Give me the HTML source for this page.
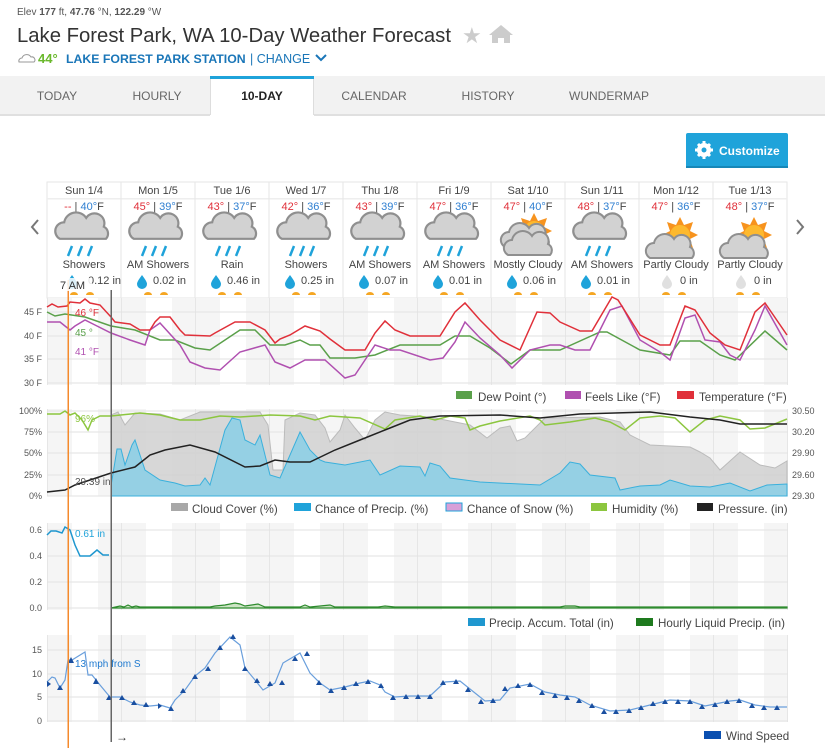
<!DOCTYPE html>
<html><head><meta charset="utf-8"><style>
html,body{margin:0;padding:0;background:#fff;}
body{width:825px;height:750px;overflow:hidden;font-family:"Liberation Sans",sans-serif;}
svg text{font-family:"Liberation Sans",sans-serif;}
</style></head><body>
<svg width="825" height="750" viewBox="0 0 825 750" xmlns="http://www.w3.org/2000/svg">
<defs>
<pattern id="bands" patternUnits="userSpaceOnUse" x="47" y="0" width="74" height="750">
<rect x="0" y="0" width="74" height="750" fill="#f5f5f5"/>
<rect x="25" y="0" width="26" height="750" fill="#fff"/>
<rect x="0" y="0" width="1" height="750" fill="#e6e6e6"/>
</pattern>
<g id="cloud"><path d="M-22,8 a8,8 0 0 1 4,-15 a11,11 0 0 1 20,-4 a9,9 0 0 1 16,8 a7,7 0 0 1 2,11 z" fill="#d2d2d2" stroke="#8f8f8f" stroke-width="2"/></g>
<g id="rain"><g transform="scale(1.1)"><use href="#cloud"/></g><path d="M-12,16 l-4,10 M-2,16 l-4,10 M8,16 l-4,10" stroke="#1fa3da" stroke-width="2.5"/></g>
<g id="sun"><polygon points="0,-18 4,-10 13,-13 10,-4 18,0 10,4 13,13 4,10 0,18 -4,10 -13,13 -10,4 -18,0 -10,-4 -13,-13 -4,-10" fill="#f7931e"/><circle r="10" fill="#fdb92e"/></g>
<g id="drop"><path d="M0,-6 C3,-2 5,1 5,3 a5,5 0 0 1 -10,0 C-5,1 -3,-2 0,-6z" fill="#1fa3da"/></g>
<g id="dropg"><path d="M0,-6 C3,-2 5,1 5,3 a5,5 0 0 1 -10,0 C-5,1 -3,-2 0,-6z" fill="#e0e0e0"/></g>
<g id="suns"><path d="M-14,0 a4,3 0 0 1 8,0z M10,0 a4,3 0 0 0 -8,0z" fill="#f5a623"/></g>
</defs>

<!-- header -->
<text x="17" y="15" font-size="10" fill="#555">Elev <tspan font-weight="bold">177</tspan> ft, <tspan font-weight="bold">47.76</tspan> °N, <tspan font-weight="bold">122.29</tspan> °W</text>
<text x="17" y="42" font-size="20.3" fill="#333">Lake Forest Park, WA 10-Day Weather Forecast</text>
<text x="462" y="43" font-size="22" fill="#ccc">★</text>
<path d="M492,43 v-8 l-3,0 l12,-10 l12,10 h-3 v8 h-6 v-5 h-6 v5z" fill="#ccc"/>
<path d="M19,62 a3,3 0 0 1 3,-4 a5,5 0 0 1 9,-1 a3,3 0 0 1 3,5z" fill="#fff" stroke="#999" stroke-width="1"/>
<text x="38" y="63" font-size="13" font-weight="bold" fill="#6ab82c">44°</text>
<text x="66" y="63" font-size="12.3" font-weight="bold" fill="#1a76b8">LAKE FOREST PARK STATION</text>
<text x="250" y="63" font-size="12.5" fill="#1a76b8">| CHANGE</text>
<path d="M316,55 l5,5 l5,-5" stroke="#1a76b8" stroke-width="2" fill="none"/>

<!-- tabs -->
<rect x="0" y="76" width="825" height="39" fill="#f2f2f2"/>
<rect x="0" y="114" width="825" height="2" fill="#e0e0e0"/>
<rect x="210" y="77" width="104" height="39" fill="#fff"/>
<rect x="210" y="76" width="104" height="3" fill="#1fa3da"/>
<rect x="210" y="79" width="1" height="36" fill="#ddd"/><rect x="313" y="79" width="1" height="36" fill="#ddd"/>
<g font-size="12" fill="#666" text-anchor="middle">
<text x="57" y="100">TODAY</text><text x="157" y="100">HOURLY</text>
<text x="262" y="100" font-weight="bold" fill="#222">10-DAY</text>
<text x="374" y="100">CALENDAR</text><text x="488" y="100">HISTORY</text><text x="609" y="100">WUNDERMAP</text>
</g>

<!-- customize -->
<rect x="686" y="133" width="102" height="35" rx="2" fill="#1fa3da"/>
<rect x="686" y="166" width="102" height="2" fill="#1787b7"/>
<circle cx="704" cy="150" r="7" fill="#fff"/>
<g stroke="#fff" stroke-width="3"><path d="M704,141 v18 M695,150 h18 M698,144 l12,12 M710,144 l-12,12"/></g>
<circle cx="704" cy="150" r="2.5" fill="#1fa3da"/>
<text x="719" y="155" font-size="12" font-weight="bold" fill="#fff">Customize</text>

<!-- arrows -->
<path d="M38,220 l-6,7 l6,7" stroke="#777" stroke-width="2" fill="none"/>
<path d="M797,220 l6,7 l-6,7" stroke="#777" stroke-width="2" fill="none"/>

<!-- day table -->
<rect x="47" y="182" width="740" height="116" fill="#fff" stroke="#e6e6e6"/>
<rect x="47" y="198" width="740" height="1.5" fill="#eee"/>
<g stroke="#e6e6e6"><path d="M121,182v116M195,182v116M269,182v116M343,182v116M417,182v116M491,182v116M565,182v116M639,182v116M713,182v116"/></g>
<g font-size="11" text-anchor="middle" fill="#444">
<text x="84" y="194">Sun 1/4</text><text x="158" y="194">Mon 1/5</text><text x="232" y="194">Tue 1/6</text><text x="306" y="194">Wed 1/7</text><text x="380" y="194">Thu 1/8</text><text x="454" y="194">Fri 1/9</text><text x="528" y="194">Sat 1/10</text><text x="602" y="194">Sun 1/11</text><text x="676" y="194">Mon 1/12</text><text x="750" y="194">Tue 1/13</text>
</g>
<g font-size="11" text-anchor="middle" fill="#444">
<text x="84" y="210"><tspan fill="#e0303a">--</tspan> | <tspan fill="#2f7fd1">40°</tspan>F</text>
<text x="158" y="210"><tspan fill="#e0303a">45°</tspan> | <tspan fill="#2f7fd1">39°</tspan>F</text>
<text x="232" y="210"><tspan fill="#e0303a">43°</tspan> | <tspan fill="#2f7fd1">37°</tspan>F</text>
<text x="306" y="210"><tspan fill="#e0303a">42°</tspan> | <tspan fill="#2f7fd1">36°</tspan>F</text>
<text x="380" y="210"><tspan fill="#e0303a">43°</tspan> | <tspan fill="#2f7fd1">39°</tspan>F</text>
<text x="454" y="210"><tspan fill="#e0303a">47°</tspan> | <tspan fill="#2f7fd1">36°</tspan>F</text>
<text x="528" y="210"><tspan fill="#e0303a">47°</tspan> | <tspan fill="#2f7fd1">40°</tspan>F</text>
<text x="602" y="210"><tspan fill="#e0303a">48°</tspan> | <tspan fill="#2f7fd1">37°</tspan>F</text>
<text x="676" y="210"><tspan fill="#e0303a">47°</tspan> | <tspan fill="#2f7fd1">36°</tspan>F</text>
<text x="750" y="210"><tspan fill="#e0303a">48°</tspan> | <tspan fill="#2f7fd1">37°</tspan>F</text>
</g>
<use href="#rain" x="84" y="230"/><use href="#rain" x="158" y="230"/><use href="#rain" x="232" y="230"/><use href="#rain" x="306" y="230"/><use href="#rain" x="380" y="230"/><use href="#rain" x="454" y="230"/>
<use href="#sun" x="534" y="231"/><use href="#cloud" x="527" y="239"/><use href="#cloud" x="530" y="247"/>
<use href="#rain" x="602" y="230"/>
<use href="#sun" x="680" y="235"/><use href="#cloud" x="672" y="250"/>
<use href="#sun" x="754" y="235"/><use href="#cloud" x="746" y="250"/>
<g font-size="11" text-anchor="middle" fill="#444">
<text x="84" y="268">Showers</text><text x="158" y="268">AM Showers</text><text x="232" y="268">Rain</text><text x="306" y="268">Showers</text><text x="380" y="268">AM Showers</text><text x="454" y="268">AM Showers</text><text x="528" y="268">Mostly Cloudy</text><text x="602" y="268">AM Showers</text><text x="676" y="268">Partly Cloudy</text><text x="750" y="268">Partly Cloudy</text>
</g>
<g font-size="11" fill="#444">
<use href="#drop" x="72" y="281"/><text x="88" y="284">0.12 in</text>
<use href="#drop" x="142" y="281"/><text x="153" y="284">0.02 in</text>
<use href="#drop" x="216" y="281"/><text x="227" y="284">0.46 in</text>
<use href="#drop" x="290" y="281"/><text x="301" y="284">0.25 in</text>
<use href="#drop" x="364" y="281"/><text x="375" y="284">0.07 in</text>
<use href="#drop" x="438" y="281"/><text x="449" y="284">0.01 in</text>
<use href="#drop" x="512" y="281"/><text x="523" y="284">0.06 in</text>
<use href="#drop" x="586" y="281"/><text x="597" y="284">0.01 in</text>
<use href="#dropg" x="667" y="281"/><text x="680" y="284">0 in</text>
<use href="#dropg" x="741" y="281"/><text x="754" y="284">0 in</text>
</g>
<g><use href="#suns" x="84" y="295"/><use href="#suns" x="158" y="295"/><use href="#suns" x="232" y="295"/><use href="#suns" x="306" y="295"/><use href="#suns" x="380" y="295"/><use href="#suns" x="454" y="295"/><use href="#suns" x="528" y="295"/><use href="#suns" x="602" y="295"/><use href="#suns" x="676" y="295"/><use href="#suns" x="750" y="295"/></g>

<!-- chart 1: temps -->
<rect x="47" y="298" width="741" height="87" fill="url(#bands)"/>
<g stroke="#e2e2e2"><path d="M47,312H788M47,336H788M47,359H788M47,383H788"/></g>
<g font-size="9" fill="#555" text-anchor="end"><text x="42" y="315">45 F</text><text x="42" y="339">40 F</text><text x="42" y="362">35 F</text><text x="42" y="386">30 F</text></g>
<polyline fill="none" stroke="#5aa04a" stroke-width="1.5" points="47,312 55,316 65,314 85,317 111,326 135,330 160,340 175,340 195,348 210,350 240,330 255,330 270,345 285,345 300,340 310,345 320,345 330,358 355,358 375,355 400,345 440,345 455,336 470,336 490,348 511,364 530,350 560,350 600,332 607,332 640,350 670,355 680,341 700,341 720,355 735,360 765,331 787,350"/>
<polyline fill="none" stroke="#b050b0" stroke-width="1.5" points="47,322 60,322 70,330 75,326 85,320 95,325 111,333 130,340 145,345 150,330 160,323 180,345 190,362 205,368 220,370 240,352 265,345 275,362 290,368 305,360 325,360 345,378 355,375 375,345 390,350 400,350 430,360 443,358 455,342 465,322 480,338 500,355 512,368 530,350 550,345 560,345 575,350 590,350 610,310 622,306 640,340 660,352 670,360 685,318 695,315 705,340 720,342 730,355 740,360 755,330 765,306 787,345"/>
<polyline fill="none" stroke="#e0303a" stroke-width="1.5" points="47,307 52,304 58,307 67,306 70,302 80,303 85,299 90,303 100,305 111,317 115,322 130,324 140,330 150,330 155,322 160,317 170,317 180,330 185,335 210,336 215,333 235,322 250,322 265,330 275,343 280,339 290,335 305,326 320,331 330,339 345,350 365,350 375,333 385,321 395,330 410,336 440,336 455,312 465,303 480,320 500,340 520,350 537,312 550,313 560,322 580,331 592,331 612,297 618,300 640,335 660,345 670,345 685,306 695,310 710,333 725,345 740,350 755,312 765,303 787,335"/>
<g font-size="10"><text x="75" y="316" fill="#e0303a">46 °F</text><text x="75" y="336" fill="#5aa04a">45 °</text><text x="75" y="355" fill="#b050b0">41 °F</text></g>
<g font-size="11.6" fill="#444">
<rect x="456" y="391" width="16" height="8" fill="#5aa04a"/><text x="478" y="401">Dew Point (°)</text>
<rect x="565" y="391" width="16" height="8" fill="#b050b0"/><text x="585" y="401">Feels Like (°F)</text>
<rect x="677" y="391" width="17" height="8" fill="#e0303a"/><text x="699" y="401">Temperature (°F)</text>
</g>

<!-- chart 2 -->
<rect x="47" y="409" width="741" height="87" fill="url(#bands)"/>
<g stroke="#e2e2e2"><path d="M47,411H788M47,432H788M47,453H788M47,475H788M47,496H788"/></g>
<g font-size="9" fill="#555" text-anchor="end"><text x="42" y="414">100%</text><text x="42" y="435">75%</text><text x="42" y="456">50%</text><text x="42" y="478">25%</text><text x="42" y="499">0%</text></g>
<g font-size="9" fill="#555"><text x="792" y="414">30.50</text><text x="792" y="435">30.20</text><text x="792" y="456">29.90</text><text x="792" y="478">29.60</text><text x="792" y="499">29.30</text></g>
<polygon fill="#d0d0d0" fill-opacity="0.85" stroke="#bbb" points="111,496 111,415 118,412 125,425 135,413 160,414 180,420 200,412 260,412 268,425 273,470 283,470 285,420 300,413 315,415 325,428 330,442 340,430 345,415 355,428 365,440 375,420 385,412 400,415 430,417 470,425 487,438 500,428 510,426 517,441 525,438 545,418 600,417 620,422 630,435 650,445 690,447 700,452 710,458 720,470 740,452 760,465 775,468 787,461 787,496"/>
<polygon fill="#8ecfe6" fill-opacity="0.9" stroke="#3ab0dc" points="111,496 111,486 117,449 121,449 125,465 132,445 135,440 145,470 160,480 175,483 185,486 200,485 205,478 210,485 225,430 232,418 240,420 245,440 255,445 260,435 265,455 270,475 280,478 300,432 310,450 320,460 325,462 345,465 370,460 380,475 400,466 420,467 425,476 430,463 440,466 450,478 480,482 540,485 560,473 570,462 580,464 590,475 615,478 620,490 640,486 660,485 670,480 690,486 710,487 730,483 750,491 767,485 787,484 787,496"/>
<polyline fill="none" stroke="#8cc63f" stroke-width="1.5" points="47,414 60,414 65,411 70,415 75,413 82,420 88,430 92,420 100,416 111,416 140,413 160,415 180,420 200,420 220,416 240,417 270,415 300,416 315,420 330,416 360,418 385,429 395,420 420,416 435,420 450,416 465,418 470,430 480,426 500,421 530,416 540,420 545,425 570,422 595,418 610,422 625,430 640,418 660,416 675,418 690,432 705,420 720,416 740,420 750,429 765,428 787,419"/>
<polyline fill="none" stroke="#222" stroke-width="1.5" points="47,492 65,490 75,485 111,473 135,467 150,455 165,450 190,445 215,452 245,467 260,466 275,460 290,462 310,462 335,450 360,440 390,428 410,420 440,416 500,415 540,418 580,414 650,412 690,417 720,420 740,424 787,424"/>
<g font-size="10"><text x="75" y="422" fill="#8cc63f">96%</text><text x="75" y="485" fill="#555">29.39 in</text></g>
<g font-size="11.6" fill="#444">
<rect x="171" y="503" width="17" height="8" fill="#a8a8a8"/><text x="192" y="513">Cloud Cover (%)</text>
<rect x="294" y="503" width="17" height="8" fill="#1fa3da"/><text x="315" y="513">Chance of Precip. (%)</text>
<rect x="446" y="503" width="16" height="8" fill="#d8a0d8" stroke="#1fa3da"/><text x="467" y="513">Chance of Snow (%)</text>
<rect x="591" y="503" width="16" height="8" fill="#8cc63f"/><text x="612" y="513">Humidity (%)</text>
<rect x="697" y="503" width="16" height="8" fill="#222"/><text x="718" y="513">Pressure. (in)</text>
</g>

<!-- chart 3 -->
<rect x="47" y="523" width="741" height="87" fill="url(#bands)"/>
<g stroke="#e2e2e2"><path d="M47,530H788M47,556H788M47,582H788M47,608H788"/></g>
<g font-size="9" fill="#555" text-anchor="end"><text x="42" y="533">0.6</text><text x="42" y="559">0.4</text><text x="42" y="585">0.2</text><text x="42" y="611">0.0</text></g>
<polyline fill="none" stroke="#1f97cf" stroke-width="1.5" points="47,535 51,531 56,531 62,533 65,527 70,530 75,545 80,556 90,556 97,550 103,555 109,555"/>
<polygon fill="#cde5c5" stroke="#2e8b2e" stroke-width="1.2" points="111,608 120,606 124,607 128,605 132,607 136,606 140,607 210,607 215,606 225,605 235,603 240,604 245,606 258,604 265,607 300,607 305,605 310,607 330,605 335,607 378,607 385,606 395,607 560,607 565,606 575,606 580,607 787,607 787,608"/>
<g font-size="10"><text x="75" y="537" fill="#1fa3da">0.61 in</text></g>
<g font-size="11.6" fill="#444">
<rect x="468" y="618" width="17" height="8" fill="#1f97cf"/><text x="489" y="627">Precip. Accum. Total (in)</text>
<rect x="636" y="618" width="17" height="8" fill="#1e7a1e"/><text x="658" y="627">Hourly Liquid Precip. (in)</text>
</g>

<!-- chart 4 -->
<rect x="47" y="635" width="741" height="87" fill="url(#bands)"/>
<g stroke="#e2e2e2"><path d="M47,650H788M47,674H788M47,697H788M47,721H788"/></g>
<g font-size="9" fill="#555" text-anchor="end"><text x="42" y="653">15</text><text x="42" y="677">10</text><text x="42" y="700">5</text><text x="42" y="724">0</text></g>
<polyline fill="none" stroke="#6a9fdc" stroke-width="1.2" points="47,682 52,677 55,678 60,688 65,680 68,660 72,660 85,652 88,675 92,675 100,685 110,697 120,697 130,702 140,705 150,706 160,705 170,708 175,700 185,690 195,676 205,668 215,653 230,637 240,645 245,668 255,680 263,690 275,683 283,663 300,653 310,673 320,683 330,690 345,687 360,683 370,681 380,685 385,692 395,697 410,696 430,696 445,682 460,681 470,689 485,701 500,700 510,688 530,684 545,692 560,695 575,697 590,705 610,711 630,710 650,705 670,700 690,701 705,706 715,704 730,701 740,700 755,705 770,707 787,707"/>
<g fill="#1a4fa0">
<path d="M47,681l4,3l-4,3z"/><path d="M60,685l3,5h-6z"/><path d="M71,657l3,6h-6z"/><path d="M96,678l3,6h-6z"/><path d="M109,695l3,5h-6z"/><path d="M122,695l3,5h-6z"/><path d="M134,700l3,5h-6z"/><path d="M146,702l3,5h-6z"/><path d="M158,703l4,3l-4,3z"/><path d="M171,706l3,5h-6z"/><path d="M183,688l3,5h-6z"/><path d="M195,674l3,5h-6z"/><path d="M208,666l3,5h-6z"/><path d="M220,645l3,5h-6z"/><path d="M233,634l3,5h-6z"/><path d="M245,666l3,5h-6z"/><path d="M257,678l3,5h-6z"/><path d="M270,681l3,5h-6z"/><path d="M282,680l3,5h-6z"/><path d="M295,656l3,5h-6z"/><path d="M307,651l3,5h-6z"/><path d="M319,680l3,5h-6z"/><path d="M331,688l3,5h-6z"/><path d="M344,685l3,5h-6z"/><path d="M356,681l3,5h-6z"/><path d="M368,679l3,5h-6z"/><path d="M381,683l3,5h-6z"/><path d="M393,695l3,5h-6z"/><path d="M406,694l3,5h-6z"/><path d="M418,694l3,5h-6z"/><path d="M430,694l3,5h-6z"/><path d="M443,680l3,5h-6z"/><path d="M456,679l3,5h-6z"/><path d="M468,687l3,5h-6z"/><path d="M481,699l3,5h-6z"/><path d="M493,698l3,5h-6z"/><path d="M505,686l3,5h-6z"/><path d="M518,683l3,5h-6z"/><path d="M530,682l3,5h-6z"/><path d="M542,690l3,5h-6z"/><path d="M555,693l3,5h-6z"/><path d="M567,695l3,5h-6z"/><path d="M579,698l3,5h-6z"/><path d="M592,703l3,5h-6z"/><path d="M604,709l3,5h-6z"/><path d="M616,709l3,5h-6z"/><path d="M629,708l3,5h-6z"/><path d="M641,705l3,5h-6z"/><path d="M653,701l3,5h-6z"/><path d="M665,699l3,5h-6z"/><path d="M678,699l3,5h-6z"/><path d="M690,699l3,5h-6z"/><path d="M702,704l3,5h-6z"/><path d="M715,702l3,5h-6z"/><path d="M727,699l3,5h-6z"/><path d="M739,698l3,5h-6z"/><path d="M752,703l3,5h-6z"/><path d="M764,705l3,5h-6z"/><path d="M777,705l3,5h-6z"/>
</g>
<g font-size="10"><text x="75" y="667" fill="#1f7ad0">13 mph from S</text></g>
<g font-size="11.6" fill="#444"><rect x="704" y="731" width="17" height="8" fill="#0a4fb0"/><text x="726" y="740">Wind Speed</text></g>

<!-- cursor lines -->
<rect x="67.5" y="280" width="1.5" height="468" fill="#f58a2c"/>
<rect x="110.5" y="290" width="1.5" height="452" fill="#666"/>
<rect x="58" y="278" width="34" height="13" fill="#fff" fill-opacity="0.85"/>
<text x="60" y="289" font-size="11" fill="#333">7 AM</text>
<text x="116" y="741" font-size="12" fill="#333">→</text>
</svg>
</body></html>
